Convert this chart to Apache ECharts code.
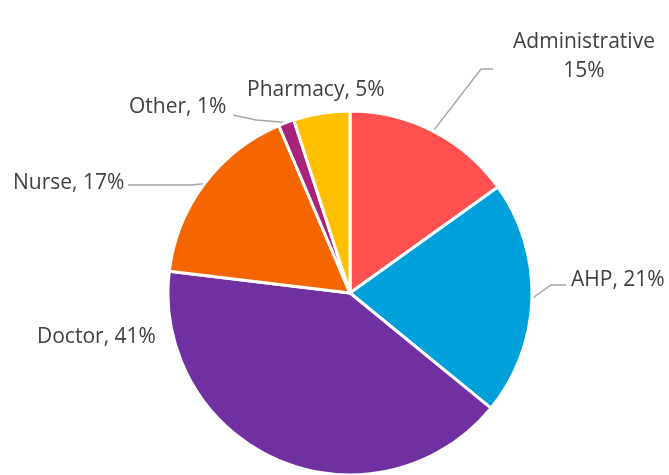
<!DOCTYPE html>
<html><head><meta charset="utf-8">
<script src="https://cdn.jsdelivr.net/npm/echarts@6/dist/echarts.min.js"></script>
<style>html,body{margin:0;padding:0;background:#fff}#c{width:669px;height:475px}</style>
</head><body><div id="c"></div>
<script>
const categories = ['Administrative', 'AHP', 'Doctor', 'Nurse', 'Other', 'Pharmacy'];
const values = [15.1, 20.8, 41.0, 16.7, 1.4, 5.0];
const colors = ['#FF5050', '#00A0DA', '#7030A0', '#F56600', '#A6227B', '#FFC000'];
const showLine = [true, true, false, true, true, false];

// label placement (x, y of anchor, alignment) and leader-line bends
const labelPlace = [
  {x: 584, y: 57, align: 'center', bend: [[481, 69], [493, 69]]},
  {x: 571, y: 280, align: 'left', bend: [[551, 285], [566, 285]]},
  {x: 37, y: 337, align: 'left', bend: null},
  {x: 13, y: 183, align: 'left', bend: [[190, 185], [128, 185]]},
  {x: 129, y: 107, align: 'left', bend: [[256, 120], [233, 115]]},
  {x: 247, y: 90, align: 'left', bend: null}
];

const chart = echarts.init(document.getElementById('c'), null, {renderer: 'canvas'});
chart.setOption({
  animation: false,
  series: [{
    type: 'pie',
    center: [350, 293],
    radius: 182,
    startAngle: 90,
    clockwise: true,
    avoidLabelOverlap: false,
    data: categories.map((n, i) => ({
      name: n, value: values[i],
      itemStyle: {color: colors[i]},
      labelLine: {show: showLine[i]}
    })),
    itemStyle: {borderColor: '#fff', borderWidth: 3},
    label: {
      show: true,
      position: 'outside',
      fontFamily: 'Open Sans',
      fontSize: 21,
      color: '#404040',
      lineHeight: 29,
      formatter: p => p.name === 'Administrative'
        ? p.name + '\n' + Math.round(p.percent) + '%'
        : p.name + ', ' + Math.round(p.percent) + '%'
    },
    labelLine: {lineStyle: {color: '#A6A6A6', width: 1.5}, length: 10, length2: 10},
    labelLayout: function (params) {
      const lp = labelPlace[params.dataIndex];
      const res = {x: lp.x, y: lp.y, align: lp.align, verticalAlign: 'middle'};
      if (lp.bend && params.labelLinePoints) {
        res.labelLinePoints = [params.labelLinePoints[0], lp.bend[0], lp.bend[1]];
      }
      return res;
    }
  }]
});
</script></body></html>
